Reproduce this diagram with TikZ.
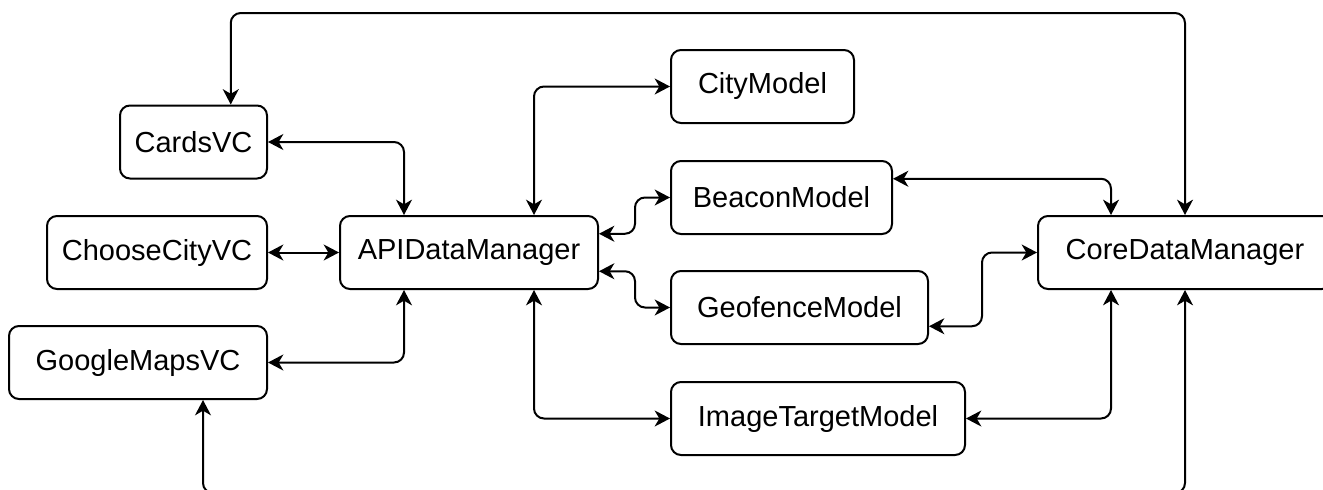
\documentclass[tikz,border=0pt]{standalone}
\usepackage{fontspec}
\setmainfont{Liberation Sans}
\usetikzlibrary{arrows.meta,calc}
\begin{document}
\begin{tikzpicture}[x=0.75pt,y=-0.75pt,
  box/.style={draw=black,line width=1.5pt,rounded corners=7.5pt,fill=white,
    minimum height=54.75pt,inner sep=0pt,
    font=\fontsize{21.75}{26}\selectfont},
  conn/.style={line width=1.5pt,rounded corners=7.5pt,
    {Stealth[length=11.5pt,width=12pt,inset=3.5pt]}-{Stealth[length=11.5pt,width=12pt,inset=3.5pt]}}]
\useasboundingbox (0,0) rectangle (1323,489);
\clip (0,0) rectangle (1323,489);
% nodes
\node[box,minimum width=110.25pt] (cards) at (193.5,142) {CardsVC};
\node[box,minimum width=165pt] (choose) at (157,252.5) {ChooseCityVC};
\node[box,minimum width=193.5pt] (gmaps) at (138,362.5) {GoogleMapsVC};
\node[box,minimum width=193.5pt] (api) at (469,252.5) {APIDataManager};
\node[box,minimum width=137.25pt] (city) at (762.5,86.5) {CityModel};
\node[box,minimum width=165.75pt] (beacon) at (781.5,197.5) {BeaconModel};
\node[box,minimum width=192.75pt] (geo) at (799.5,307.5) {GeofenceModel};
\node[box,minimum width=220.5pt] (image) at (818,418.5) {ImageTargetModel};
\node[box,minimum width=220.5pt] (core) at (1185,252.5) {CoreDataManager};
% ports
\coordinate (apiT1) at ($(api.north west)!0.25!(api.north east)$);
\coordinate (apiT2) at ($(api.north west)!0.75!(api.north east)$);
\coordinate (apiB1) at ($(api.south west)!0.25!(api.south east)$);
\coordinate (apiB2) at ($(api.south west)!0.75!(api.south east)$);
\coordinate (apiR1) at ($(api.north east)!0.25!(api.south east)$);
\coordinate (apiR2) at ($(api.north east)!0.75!(api.south east)$);
\coordinate (cardsT) at ($(cards.north west)!0.75!(cards.north east)$);
\coordinate (gmapsB) at ($(gmaps.south west)!0.75!(gmaps.south east)$);
\coordinate (beaconR) at ($(beacon.north east)!0.25!(beacon.south east)$);
\coordinate (geoR) at ($(geo.north east)!0.75!(geo.south east)$);
\coordinate (coreT1) at ($(core.north west)!0.25!(core.north east)$);
\coordinate (coreB1) at ($(core.south west)!0.25!(core.south east)$);
\coordinate (mx1) at (635,0);
\coordinate (mx2) at (982,0);
\coordinate (topy) at (0,13);
\coordinate (boty) at (0,493);
% connectors
\draw[conn] (core.north) -- (core.north |- topy) -| (cardsT);
\draw[conn] (cards.east) -| (apiT1);
\draw[conn] (choose.east) -- (api.west);
\draw[conn] (gmaps.east) -| (apiB1);
\draw[conn] (apiT2) |- (city.west);
\draw[conn] (apiR1) -- (apiR1 -| mx1) |- (beacon.west);
\draw[conn] (apiR2) -- (apiR2 -| mx1) |- (geo.west);
\draw[conn] (apiB2) |- (image.west);
\draw[conn] (beaconR) -| (coreT1);
\draw[conn] (geoR) -- (geoR -| mx2) |- (core.west);
\draw[conn] (image.east) -| (coreB1);
\draw[conn] (gmapsB) -- (gmapsB |- boty) -| (core.south);
\end{tikzpicture}
\end{document}
